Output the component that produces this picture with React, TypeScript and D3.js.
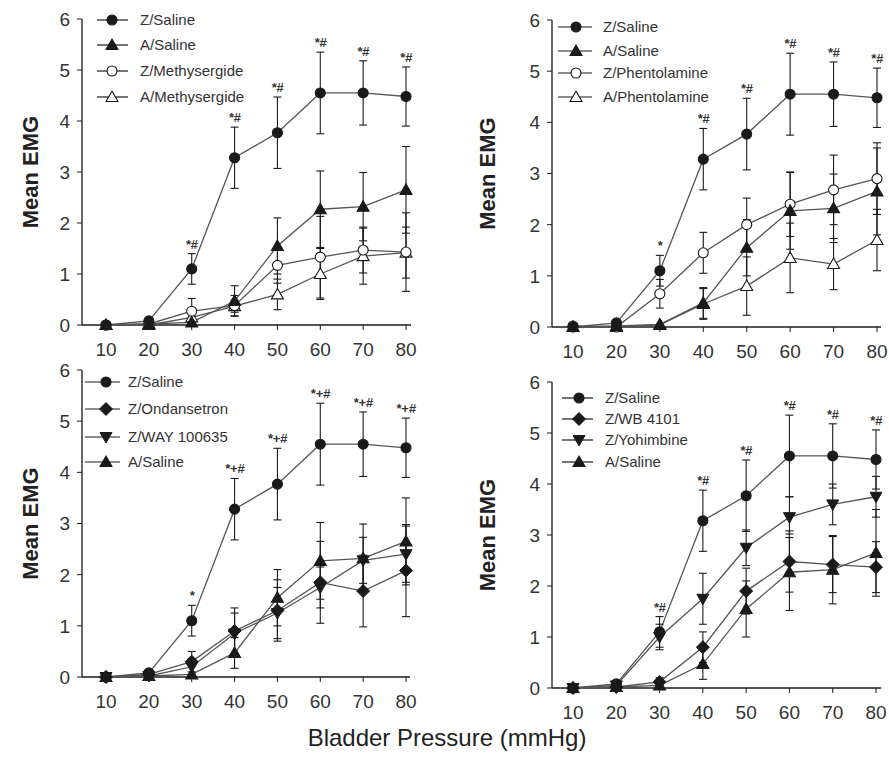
import { line, scaleLinear, range } from "d3";

// bladder pressure categories (mmHg)
const pressures = [10, 20, 30, 40, 50, 60, 70, 80];
const yTicks = [0, 1, 2, 3, 4, 5, 6];

// mean EMG and SEM
const zSaline = [0, 0.08, 1.1, 3.28, 3.77, 4.55, 4.55, 4.48];
const zSalineErr = [0, 0.03, 0.3, 0.6, 0.7, 0.8, 0.63, 0.58];
const aSaline = [0, 0.02, 0.05, 0.47, 1.55, 2.27, 2.32, 2.65];
const aSalineErr = [0, 0.02, 0.04, 0.3, 0.55, 0.75, 0.67, 0.85];

const zMethysergide = [0, 0.02, 0.27, 0.38, 1.17, 1.33, 1.47, 1.43];
const zMethysergideErr = [0, 0.02, 0.25, 0.2, 0.35, 0.8, 0.45, 0.77];
const aMethysergide = [0, 0, 0.15, 0.37, 0.6, 1.0, 1.35, 1.42];
const aMethysergideErr = [0, 0, 0.1, 0.12, 0.3, 0.5, 0.55, 0.5];

const zPhentolamine = [0.02, 0, 0.65, 1.45, 2.0, 2.4, 2.68, 2.9];
const zPhentolamineErr = [0, 0, 0.28, 0.4, 0.52, 0.63, 0.68, 0.7];
const aPhentolamine = [0, 0, 0.04, 0.45, 0.8, 1.35, 1.23, 1.7];
const aPhentolamineErr = [0, 0, 0.02, 0.3, 0.57, 0.68, 0.5, 0.6];

const zOndansetron = [0, 0.05, 0.3, 0.9, 1.3, 1.85, 1.68, 2.08];
const zOndansetronErr = [0, 0.03, 0.2, 0.45, 0.6, 0.8, 0.7, 0.9];
const zWay = [0, 0.02, 0.2, 0.85, 1.25, 1.75, 2.28, 2.4];
const zWayErr = [0, 0.02, 0.15, 0.4, 0.5, 0.4, 0.45, 0.55];

const zWb4101 = [0, 0.02, 0.12, 0.8, 1.9, 2.48, 2.42, 2.37];
const zWb4101Err = [0, 0.02, 0.08, 0.3, 0.45, 0.6, 0.55, 0.5];
const zYohimbine = [0, 0.05, 1.0, 1.75, 2.75, 3.35, 3.6, 3.75];
const zYohimbineErr = [0, 0.03, 0.25, 0.5, 0.35, 0.4, 0.4, 0.4];

// significance marks above Z/Saline
const marksMethysergide = ["", "", "*#", "*#", "*#", "*#", "*#", "*#"];
const marksPhentolamine = ["", "", "*", "*#", "*#", "*#", "*#", "*#"];
const marksOndansetron = ["", "", "*", "*+#", "*+#", "*+#", "*+#", "*+#"];
const marksWb4101 = ["", "", "*#", "*#", "*#", "*#", "*#", "*#"];

type Marker = "circle" | "triangle" | "openCircle" | "openTriangle" | "diamond" | "downTriangle";
type Series = { name: string; values: number[]; err: number[]; marker: Marker };

const ink = "#1a1a1a";
const lineColor = "#555";
const font = "'Liberation Sans Narrow', 'Liberation Sans', Arial, sans-serif";

const panels = [
  {
    x0: 82, x1: 411, y0: 325, y6: 19, first: 106, last: 406, labelX: 38,
    legend: { a: 97, b: 128, m: 112, text: 140, rows: [20, 45, 71, 97] },
    marks: marksMethysergide,
    series: [
      { name: "Z/Saline", values: zSaline, err: zSalineErr, marker: "circle" },
      { name: "A/Saline", values: aSaline, err: aSalineErr, marker: "triangle" },
      { name: "Z/Methysergide", values: zMethysergide, err: zMethysergideErr, marker: "openCircle" },
      { name: "A/Methysergide", values: aMethysergide, err: aMethysergideErr, marker: "openTriangle" },
    ] as Series[],
  },
  {
    x0: 552, x1: 881, y0: 327, y6: 20, first: 573, last: 877, labelX: 495,
    legend: { a: 558, b: 592, m: 576, text: 603, rows: [27, 51, 73, 97] },
    marks: marksPhentolamine,
    series: [
      { name: "Z/Saline", values: zSaline, err: zSalineErr, marker: "circle" },
      { name: "A/Saline", values: aSaline, err: aSalineErr, marker: "triangle" },
      { name: "Z/Phentolamine", values: zPhentolamine, err: zPhentolamineErr, marker: "openCircle" },
      { name: "A/Phentolamine", values: aPhentolamine, err: aPhentolamineErr, marker: "openTriangle" },
    ] as Series[],
  },
  {
    x0: 82, x1: 410, y0: 677, y6: 370, first: 106, last: 406, labelX: 38,
    legend: { a: 85, b: 120, m: 106, text: 128, rows: [382, 409, 437, 462] },
    marks: marksOndansetron,
    series: [
      { name: "Z/Saline", values: zSaline, err: zSalineErr, marker: "circle" },
      { name: "Z/Ondansetron", values: zOndansetron, err: zOndansetronErr, marker: "diamond" },
      { name: "Z/WAY 100635", values: zWay, err: zWayErr, marker: "downTriangle" },
      { name: "A/Saline", values: aSaline, err: aSalineErr, marker: "triangle" },
    ] as Series[],
  },
  {
    x0: 552, x1: 881, y0: 688, y6: 382, first: 573, last: 876, labelX: 495,
    legend: { a: 562, b: 593, m: 579, text: 605, rows: [398, 419, 440, 462] },
    marks: marksWb4101,
    series: [
      { name: "Z/Saline", values: zSaline, err: zSalineErr, marker: "circle" },
      { name: "Z/WB 4101", values: zWb4101, err: zWb4101Err, marker: "diamond" },
      { name: "Z/Yohimbine", values: zYohimbine, err: zYohimbineErr, marker: "downTriangle" },
      { name: "A/Saline", values: aSaline, err: aSalineErr, marker: "triangle" },
    ] as Series[],
  },
];

function Symbol({ kind, x, y }: { kind: Marker; x: number; y: number }) {
  const open = kind === "openCircle" || kind === "openTriangle";
  const fill = open ? "#fff" : ink;
  if (kind === "circle" || kind === "openCircle")
    return <circle cx={x} cy={y} r={5} fill={fill} stroke={ink} strokeWidth={1.1} />;
  if (kind === "diamond")
    return <path d={`M${x},${y - 6.5}L${x + 6.5},${y}L${x},${y + 6.5}L${x - 6.5},${y}Z`} fill={fill} stroke={ink} />;
  if (kind === "downTriangle")
    return <path d={`M${x - 6},${y - 4.5}L${x + 6},${y - 4.5}L${x},${y + 6}Z`} fill={fill} stroke={ink} />;
  return <path d={`M${x},${y - 6}L${x + 6},${y + 4.5}L${x - 6},${y + 4.5}Z`} fill={fill} stroke={ink} strokeWidth={1.1} />;
}

function Panel({ p }: { p: (typeof panels)[number] }) {
  const x = scaleLinear().domain([10, 80]).range([p.first, p.last]);
  const y = scaleLinear().domain([0, 6]).range([p.y0, p.y6]);
  const path = line<number>()
    .x((_, i) => x(pressures[i]))
    .y((d) => y(d));
  const top = p.series[0];
  return (
    <g>
      {/* axes */}
      <line x1={p.x0} x2={p.x0} y1={p.y0} y2={p.y6} stroke={ink} strokeWidth={1.3} />
      <line x1={p.x0} x2={p.x1} y1={p.y0} y2={p.y0} stroke={ink} strokeWidth={1.3} />
      {yTicks.map((t) => (
        <g key={t}>
          <line x1={p.x0 - 5} x2={p.x0} y1={y(t)} y2={y(t)} stroke={ink} />
          <text x={p.x0 - 12} y={y(t)} dy="0.36em" textAnchor="end" fontSize={19} fill="#333" fontFamily={font}>
            {t}
          </text>
        </g>
      ))}
      {pressures.map((v) => (
        <g key={v}>
          <line x1={x(v)} x2={x(v)} y1={p.y0} y2={p.y0 + 5} stroke={ink} />
          <text x={x(v)} y={p.y0 + 31} textAnchor="middle" fontSize={19} fill="#333" fontFamily={font}>
            {v}
          </text>
        </g>
      ))}
      <text
        transform={`translate(${p.labelX},${(p.y0 + p.y6) / 2}) rotate(-90)`}
        textAnchor="middle"
        fontSize={22}
        fontWeight="bold"
        fill="#222"
        fontFamily="'Liberation Sans', Arial, sans-serif"
      >
        Mean EMG
      </text>

      {/* series lines */}
      {p.series.map((s) => (
        <path key={s.name + "l"} d={path(s.values) ?? ""} fill="none" stroke={lineColor} strokeWidth={1.3} />
      ))}
      {/* error bars */}
      {p.series.map((s) =>
        s.values.map((v, i) =>
          s.err[i] > 0.05 ? (
            <g key={s.name + i} stroke={ink} strokeWidth={1.1}>
              <line x1={x(pressures[i])} x2={x(pressures[i])} y1={y(v - s.err[i])} y2={y(v + s.err[i])} />
              <line x1={x(pressures[i]) - 4} x2={x(pressures[i]) + 4} y1={y(v + s.err[i])} y2={y(v + s.err[i])} />
              <line x1={x(pressures[i]) - 4} x2={x(pressures[i]) + 4} y1={y(v - s.err[i])} y2={y(v - s.err[i])} />
            </g>
          ) : null
        )
      )}
      {/* markers, drawn back to front */}
      {range(p.series.length - 1, -1, -1).map((k) =>
        p.series[k].values.map((v, i) => (
          <Symbol key={k + "-" + i} kind={p.series[k].marker} x={x(pressures[i])} y={y(v)} />
        ))
      )}
      {/* significance marks */}
      {p.marks.map((m, i) =>
        m ? (
          <text
            key={"m" + i}
            x={x(pressures[i])}
            y={y(top.values[i] + top.err[i]) - 5}
            textAnchor="middle"
            fontSize={13}
            fontStyle="italic"
            fontWeight="bold"
            fill="#333"
            fontFamily="'Liberation Sans', Arial, sans-serif"
          >
            {m}
          </text>
        ) : null
      )}
      {/* legend */}
      {p.series.map((s, k) => (
        <g key={s.name + "lg"}>
          <line x1={p.legend.a} x2={p.legend.b} y1={p.legend.rows[k]} y2={p.legend.rows[k]} stroke={ink} strokeWidth={1.2} />
          <Symbol kind={s.marker} x={p.legend.m} y={p.legend.rows[k]} />
          <text x={p.legend.text} y={p.legend.rows[k]} dy="0.35em" fontSize={15} fill="#333" fontFamily="'Liberation Sans', Arial, sans-serif">
            {s.name}
          </text>
        </g>
      ))}
    </g>
  );
}

export default function App() {
  return (
    <svg
      width={889}
      height={758}
      style={{ position: "absolute", left: 0, top: 0, background: "#fff" }}
    >
      <rect width={889} height={758} fill="#fff" />
      {panels.map((p, i) => (
        <Panel key={i} p={p} />
      ))}
      <text x={447} y={746} textAnchor="middle" fontSize={24} fill="#222" fontFamily={font}>
        Bladder Pressure (mmHg)
      </text>
    </svg>
  );
}
